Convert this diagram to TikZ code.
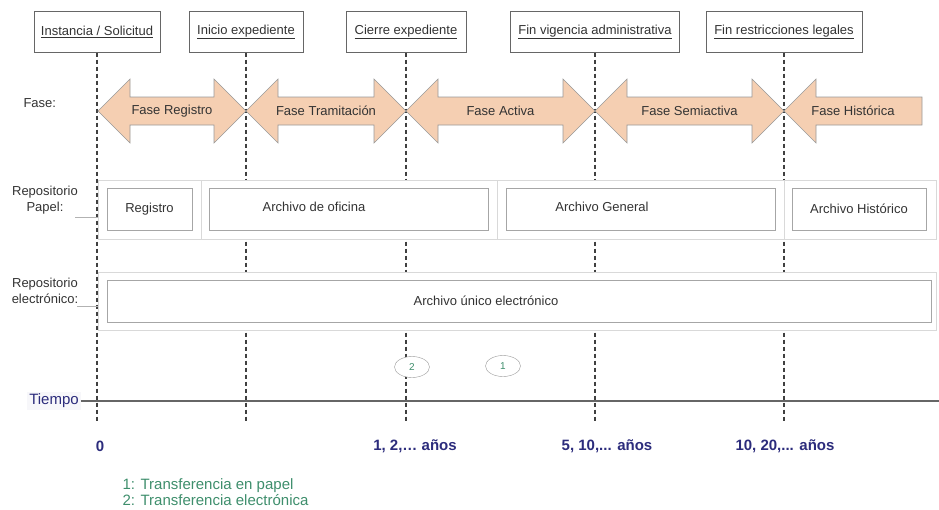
\documentclass[tikz,border=0pt]{standalone}
\usepackage{fontspec}
\setmainfont{Liberation Sans}
\usetikzlibrary{shapes.geometric}
\definecolor{melocoton}{HTML}{F5CFB2}
\definecolor{marino}{HTML}{2C2C7C}
\definecolor{verde}{HTML}{3E8E6C}
\definecolor{texto}{HTML}{333333}
\tikzset{x=1pt, y=-1pt,
  hito/.style={draw=black!60, fill=white, minimum height=41, text=texto,
    font=\fontsize{13}{15}\selectfont},
  limite/.style={draw=black!75, line width=1.1pt, dash pattern=on 4pt off 3pt},
  fase/.style={draw=black!40, fill=melocoton, line width=0.6pt},
  fasetxt/.style={text=texto, font=\fontsize{13}{15}\selectfont},
  marco/.style={draw=black!15, fill=white, line width=0.8pt},
  caja/.style={draw=black!35, fill=white, line width=0.9pt, minimum height=42},
  etiq/.style={text=texto, align=center, font=\fontsize{13}{16}\selectfont},
  anio/.style={text=marino, font=\bfseries\fontsize{15}{17}\selectfont},
  transf/.style={ellipse, draw=black!40, fill=white, minimum width=35,
    minimum height=21, inner sep=0pt, text=verde, font=\fontsize{10}{12}\selectfont}}
\newcommand{\fasedoble}[4]{%
  \draw[fase] (#2,111) -- (#2+32,79) -- (#2+32,97) -- (#3-32,97) -- (#3-32,79)
    -- (#3,111) -- (#3-32,143) -- (#3-32,125) -- (#2+32,125) -- (#2+32,143) -- cycle;
  \node[fasetxt] (#1) at ({(#2+#3)/2},111) {#4};}

\begin{document}
\begin{tikzpicture}
\useasboundingbox (0,0) rectangle (939,509);

% hitos
\node[hito, minimum width=126] (ins) at (97,32)  {\underline{Instancia / Solicitud}};
\node[hito, minimum width=114] (ini) at (246,32) {\underline{Inicio expediente}};
\node[hito, minimum width=120] (cie) at (406,32) {\underline{Cierre expediente}};
\node[hito, minimum width=169] (fin) at (595,32) {\underline{Fin vigencia administrativa}};
\node[hito, minimum width=156] (res) at (784,32) {\underline{Fin restricciones legales}};

\coordinate (base) at (0,422);
\foreach \n in {ins,ini,cie,fin,res}
  \draw[limite] (\n.south) -- (\n.south |- base);

% fases
\node[fasetxt, anchor=west] (fase) at (20,103) {Fase:};
\fasedoble{registro}{98}{246}{Fase Registro}
\fasedoble{tramite}{246}{406}{Fase Tramitación}
\fasedoble{activa}{406}{595}{Fase Activa}
\fasedoble{semi}{595}{784}{Fase Semiactiva}
\draw[fase] (784,111) -- (816,79) -- (816,97) -- (922,97) -- (922,125)
  -- (816,125) -- (816,143) -- cycle;
\node[fasetxt] (historica) at (853,111) {Fase Histórica};

% repositorio papel
\node[etiq] (rpap) at (45,200) {Repositorio\\Papel:};
\draw[marco] (98,180) rectangle (201,239);
\draw[marco] (201,180) rectangle (497,239);
\draw[marco] (497,180) rectangle (784,239);
\draw[marco] (784,180) rectangle (936,239);
\coordinate (papel) at (98,217);
\draw[black!30] (75,217) -- (papel);
\node[caja, minimum width=85] (reg) at (149.5,209) {};
\node[etiq] at (reg) {Registro};
\node[caja, minimum width=279] (ofi) at (348.5,209) {};
\node[etiq] at (314,207) {Archivo de oficina};
\node[caja, minimum width=269] (gen) at (640.5,209) {};
\node[etiq] at (602,207) {Archivo General};
\node[caja, minimum width=134] (his) at (859,209) {};
\node[etiq] at (his) {Archivo Histórico};

% repositorio electronico
\node[etiq] (relec) at (45,291) {Repositorio\\electrónico:};
\draw[marco] (98,272) rectangle (936,330);
\coordinate (elec) at (98,306);
\draw[black!30] (77,306) -- (elec);
\node[caja, minimum width=824] (unico) at (519,301) {};
\node[etiq] at (486,301) {Archivo único electrónico};

% transferencias
\node[transf] (t2) at (412,367) {2};
\node[transf] (t1) at (503,366) {1};

% tiempo
\node[fill=marino!4, text=marino, inner sep=2pt, font=\fontsize{15}{17}\selectfont] (tiempo) at (54,401) {Tiempo};
\coordinate (fineje) at (939,401);
\draw[black!60, line width=1.6pt] (tiempo.east) -- (fineje);

\node[anio] (a0) at (100,446) {0};
\node[anio] (a1) at (415,446) {1, 2,… años};
\node[anio] (a5) at (607,446) {5, 10,... años};
\node[anio] (a10) at (785,446) {10, 20,... años};

\node[text=verde, align=left, anchor=west, font=\fontsize{15}{16.5}\selectfont] (leyenda) at (119,492)
  {1: Transferencia en papel\\2: Transferencia electrónica};
\end{tikzpicture}
\end{document}
